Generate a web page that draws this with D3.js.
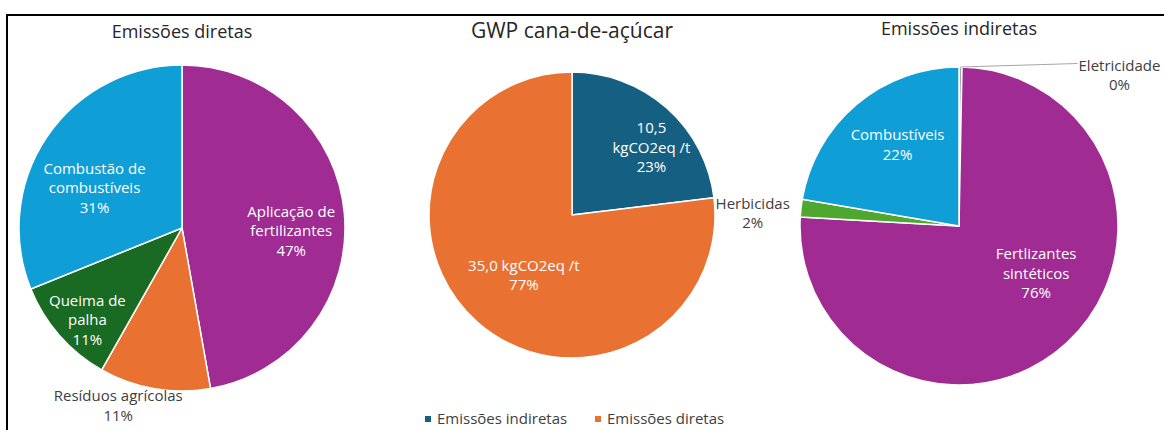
<!DOCTYPE html>
<html>
<head>
<meta charset="utf-8">
<script src="https://cdn.jsdelivr.net/npm/d3@7"></script>
<style>
  html, body { margin: 0; padding: 0; background: #fff; }
  svg { display: block; font-family: "Open Sans", "Liberation Sans", sans-serif; }
</style>
</head>
<body>
<svg id="chart" width="1164" height="430"></svg>
<script>
// --- data ---
const directCategories = ["Aplicação de fertilizantes", "Resíduos agrícolas", "Queima de palha", "Combustão de combustíveis"];
const directValues = [47.2, 11.0, 10.7, 31.1];
const directLabels = [["Aplicação de", "fertilizantes"], ["Resíduos agrícolas"], ["Queima de", "palha"], ["Combustão de", "combustíveis"]];

const gwpCategories = ["Emissões indiretas", "Emissões diretas"];
const gwpValues = [10.5, 35.0];
const gwpUnit = "kgCO2eq /t";

const indirectCategories = ["Eletricidade", "Fertlizantes sintéticos", "Herbicidas", "Combustíveis"];
const indirectValues = [0.3, 75.6, 1.8, 22.3];
const indirectLabels = [["Eletricidade"], ["Fertlizantes", "sintéticos"], ["Herbicidas"], ["Combustíveis"]];

const titles = ["Emissões diretas", "GWP cana-de-açúcar", "Emissões indiretas"];

// office theme colours
const colors = {
  purple: "#A02B93",
  blue: "#0F9ED5",
  orange: "#E97132",
  darkGreen: "#196B24",
  navy: "#156082",
  green: "#4EA72E"
};

const svg = d3.select("#chart");
const textColor = "#404040";
const labelSize = 15;
const lineHeight = 19.5;
const pct = (v, total) => `${Math.round(v / total * 100)}%`;
const comma = v => d3.format(".1f")(v).replace(".", ",");

// frame
svg.append("path")
  .attr("d", "M7,430V15H1164")
  .attr("fill", "none")
  .attr("stroke", "#000")
  .attr("stroke-width", 2);

const pies = [
  {
    title: titles[0], titleSize: 18, cx: 182, cy: 228, r: 163, titleY: 32,
    names: directCategories, values: directValues,
    fill: [colors.purple, colors.orange, colors.darkGreen, colors.blue],
    lines: (d, i, total) => [...directLabels[i], pct(d.value, total)],
    // label placement: radius ratio and angle shift (deg) from slice middle
    place: [
      { ratio: 0.67, shift: 6.5, inside: true },
      { ratio: 1.16, shift: 10, inside: false },
      { ratio: 0.81, shift: -3, inside: true },
      { ratio: 0.59, shift: -9.5, inside: true }
    ]
  },
  {
    title: titles[1], titleSize: 21, cx: 572, cy: 215, r: 143, titleY: 31,
    names: gwpCategories, values: gwpValues,
    fill: [colors.navy, colors.orange],
    lines: (d, i, total) => i === 0
      ? [comma(d.value), gwpUnit, pct(d.value, total)]
      : [`${comma(d.value)} ${gwpUnit}`, pct(d.value, total)],
    place: [
      { ratio: 0.73, shift: 8, inside: true },
      { ratio: 0.54, shift: -3, inside: true }
    ]
  },
  {
    title: titles[2], titleSize: 18, cx: 959, cy: 226, r: 159, titleY: 29,
    names: indirectCategories, values: indirectValues,
    fill: ["#A5A5A5", colors.purple, colors.green, colors.blue],
    lines: (d, i, total) => [...indirectLabels[i], pct(d.value, total)],
    place: [
      { ratio: 1.0, shift: 0, inside: false, leader: true },
      { ratio: 0.57, shift: -15.5, inside: true },
      { ratio: 1.3, shift: -3, inside: false },
      { ratio: 0.64, shift: 3, inside: true }
    ]
  }
];

const pie = d3.pie().sort(null).value(d => d.value);

pies.forEach(cfg => {
  const g = svg.append("g").attr("transform", `translate(${cfg.cx},${cfg.cy})`);
  const rows = cfg.names.map((name, i) => ({ name, value: cfg.values[i] }));
  const total = d3.sum(cfg.values);
  const arcs = pie(rows);
  const arc = d3.arc().innerRadius(0).outerRadius(cfg.r);

  svg.append("text")
    .attr("x", cfg.cx)
    .attr("y", cfg.titleY)
    .attr("dy", "0.35em")
    .attr("text-anchor", "middle")
    .attr("font-size", cfg.titleSize)
    .attr("fill", "#262626")
    .text(cfg.title);

  g.selectAll("path.slice")
    .data(arcs)
    .join("path")
    .attr("class", "slice")
    .attr("d", arc)
    .attr("fill", (d, i) => cfg.fill[i])
    .attr("stroke", "#fff")
    .attr("stroke-width", 1.5)
    .attr("stroke-linejoin", "round");

  const labels = g.selectAll("g.label")
    .data(arcs)
    .join("g")
    .attr("class", "label");

  labels.each(function (d, i) {
    const p = cfg.place[i];
    const sel = d3.select(this);
    const lines = cfg.lines(d.data, i, total);

    if (p.leader) {
      // leader line from the arc edge out to the right
      const a = (d.startAngle + d.endAngle) / 2;
      const x0 = Math.sin(a) * cfg.r;
      const y0 = -Math.cos(a) * cfg.r;
      const x1 = x0 + 117;
      const y1 = y0 - 3.5;
      sel.append("path")
        .attr("d", `M${x0},${y0}L${x1},${y1}`)
        .attr("stroke", "#A6A6A6")
        .attr("stroke-width", 1)
        .attr("fill", "none");
      const t = sel.append("text")
        .attr("text-anchor", "middle")
        .attr("font-size", labelSize)
        .attr("fill", textColor);
      lines.forEach((line, k) => {
        t.append("tspan")
          .attr("x", x1 + 42)
          .attr("y", y1 + 2 + k * lineHeight)
          .attr("dy", "0.35em")
          .text(line);
      });
      return;
    }

    const a = (d.startAngle + d.endAngle) / 2 + p.shift * Math.PI / 180;
    const x = Math.sin(a) * cfg.r * p.ratio;
    const y = -Math.cos(a) * cfg.r * p.ratio;
    const t = sel.append("text")
      .attr("text-anchor", "middle")
      .attr("font-size", labelSize)
      .attr("fill", p.inside ? "#fff" : textColor);
    lines.forEach((line, k) => {
      t.append("tspan")
        .attr("x", x)
        .attr("y", y + (k - (lines.length - 1) / 2) * lineHeight)
        .attr("dy", "0.35em")
        .text(line);
    });
  });
});

// legend for the GWP pie
const legendX = [428, 598];
const legend = svg.append("g").attr("class", "legend");
gwpCategories.forEach((name, i) => {
  const item = legend.append("g").attr("transform", `translate(${legendX[i]},419)`);
  item.append("rect")
    .attr("x", -3)
    .attr("y", -3)
    .attr("width", 6)
    .attr("height", 6)
    .attr("fill", [colors.navy, colors.orange][i]);
  item.append("text")
    .attr("x", 9)
    .attr("dy", "0.35em")
    .attr("font-size", labelSize)
    .attr("fill", textColor)
    .text(name);
});
</script>
</body>
</html>
